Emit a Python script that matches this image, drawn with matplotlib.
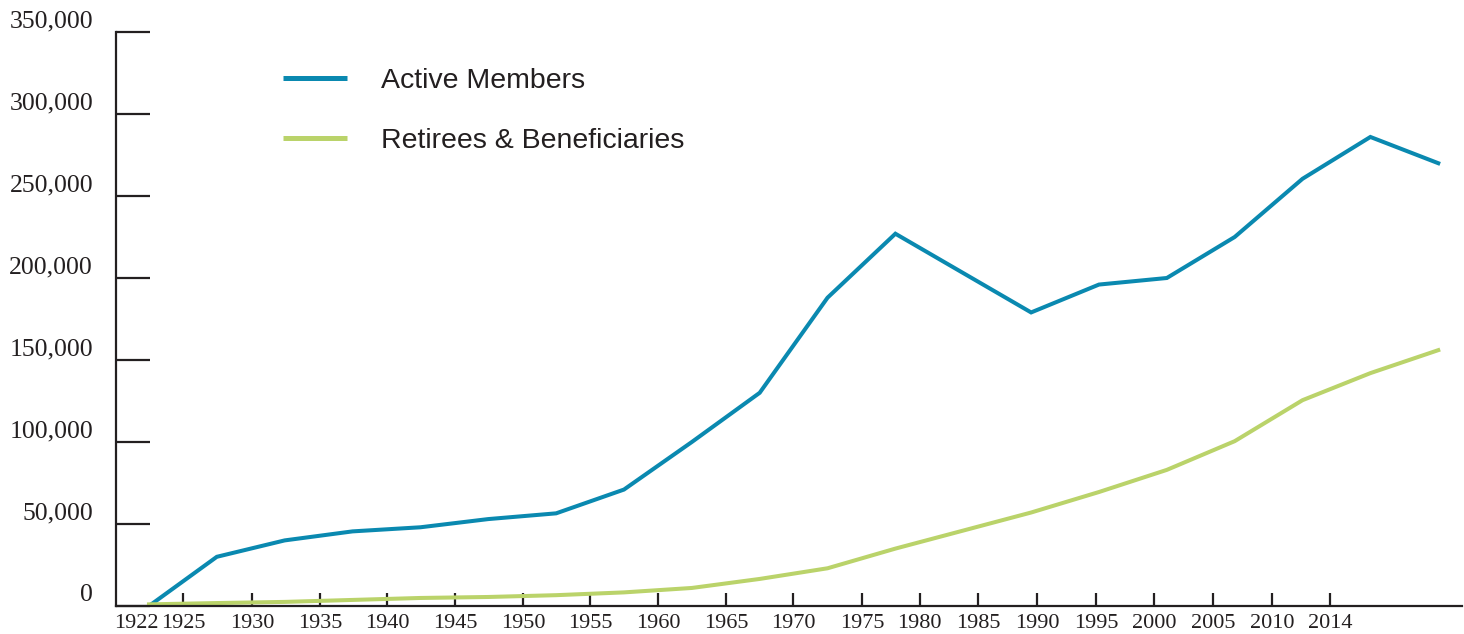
import numpy as np
import matplotlib
matplotlib.use("Agg")
import matplotlib.pyplot as plt

# Membership counts at each five-year valuation point
active_members = [0, 30000, 40000, 45500, 48000, 53000, 56500, 71000, 100000, 130000,
                  188000, 227000, 203000, 179000, 196000, 200000, 225000, 260500, 286000, 270000]
retirees_beneficiaries = [1000, 1800, 2500, 3700, 4900, 5500, 6600, 8300, 11000, 16500,
                          23000, 35000, 46000, 57000, 69500, 83000, 100500, 125500, 142000, 156000]

# Year labels along the bottom and where they sit along the series
year_labels = ["1922", "1925", "1930", "1935", "1940", "1945", "1950", "1955", "1960", "1965",
               "1970", "1975", "1980", "1985", "1990", "1995", "2000", "2005", "2010", "2014"]
year_label_pos = [-0.19, 0.50, 1.52, 2.52, 3.51, 4.51, 5.51, 6.50, 7.50, 8.51,
                  9.49, 10.51, 11.36, 12.22, 13.09, 13.96, 14.81, 15.68, 16.55, 17.41]

y_ticks = [0, 50000, 100000, 150000, 200000, 250000, 300000, 350000]
y_tick_labels = ["0", "50,000", "100,000", "150,000", "200,000", "250,000", "300,000", "350,000"]

BLUE = "#0a89b0"
GREEN = "#bad36a"
INK = "#231f20"

W, H = 1464, 634
fig = plt.figure(figsize=(W / 100, H / 100), dpi=100)
ax = fig.add_axes([116 / W, (H - 606) / H, (1462 - 116) / W, (606 - 32) / H])

x = np.arange(len(active_members))
ax.plot(x, active_members, color=BLUE, lw=2.9, solid_joinstyle="miter", label="Active Members")
ax.plot(x, retirees_beneficiaries, color=GREEN, lw=2.9, solid_joinstyle="miter",
        label="Retirees & Beneficiaries")

ax.set_xlim(-0.486, 19.35)
ax.set_ylim(0, 350000)

for side in ("top", "right"):
    ax.spines[side].set_visible(False)
for side in ("left", "bottom"):
    ax.spines[side].set_color(INK)
    ax.spines[side].set_linewidth(1.6)

serif = "Liberation Serif"
ax.set_yticks(y_ticks)
ax.set_yticklabels(y_tick_labels, fontsize=18.5, family=serif, color=INK, va="bottom")
ax.tick_params(axis="y", direction="in", length=24.5, width=1.6, color=INK, pad=16.5)

ax.set_xticks(year_label_pos)
ax.set_xticklabels(year_labels, fontsize=16, family=serif, color=INK)
ax.tick_params(axis="x", direction="in", length=9.5, width=1.6, color=INK, pad=5.5)
ax.xaxis.get_major_ticks()[0].tick1line.set_visible(False)

leg = ax.legend(loc="center left", bbox_to_anchor=(283 / W, 1 - 111 / H),
                bbox_transform=fig.transFigure, frameon=False, borderpad=0,
                borderaxespad=0, handlelength=2.25, handletextpad=1.2,
                labelspacing=1.2, prop={"family": "Liberation Sans", "size": 20.5})
for line in leg.get_lines():
    line.set_linewidth(3.6)
    line.set_solid_capstyle("butt")
for t in leg.get_texts():
    t.set_color(INK)

fig.savefig("out.png", dpi=100, facecolor="white")
